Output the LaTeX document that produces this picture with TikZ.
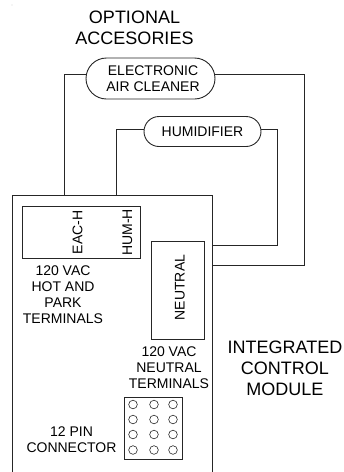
\documentclass[tikz,border=0pt]{standalone}
\usepackage{fontspec}
\setmainfont{Liberation Sans}
\usetikzlibrary{shapes.misc}
\tikzset{
  wire/.style={draw=black!85,line width=0.9pt},
  pill/.style={rounded rectangle,draw=black!85,line width=0.9pt,inner sep=0pt,align=center,font=\fontsize{14}{16}\selectfont},
  boxed/.style={rectangle,draw=black!85,line width=0.9pt,inner sep=0pt},
  big/.style={align=center,inner sep=0pt,font=\fontsize{18}{21}\selectfont},
  small/.style={align=center,inner sep=0pt,font=\fontsize{14}{16}\selectfont},
  vert/.style={rotate=90,inner sep=0pt,font=\fontsize{14}{16}\selectfont},
  pin/.style={circle,draw=black!85,line width=0.6pt,minimum size=8.6pt,inner sep=0pt}
}
\begin{document}
\begin{tikzpicture}[x=1pt,y=-1pt]
\useasboundingbox (0,0) rectangle (344,472);
\fill[black!50] (12,5) circle (0.4pt);
% module (open at the bottom)
\coordinate (mtl) at (12.5,195.5);
\coordinate (mtr) at (212,195.5);
\coordinate (mbl) at (12.5,472);
\coordinate (mbr) at (212,472);
\draw[wire] (mbl) -- (mtl) -- (mtr) -- (mbr);
% accessories
\node[big] (title) at (134.5,28) {OPTIONAL\\ACCESORIES};
\node[pill,minimum width=129pt,minimum height=41pt] (eac) at (150.5,78.5) {\hspace*{5pt}ELECTRONIC\\\hspace*{5pt}AIR CLEANER};
\node[pill,minimum width=117pt,minimum height=30pt] (hum) at (202.5,131.5) {HUMIDIFIER};
% terminals
\node[boxed,minimum width=118pt,minimum height=52pt] (hot) at (81,232) {};
\node[vert] (each) at (77.5,232.5) {EAC-H};
\node[vert] (humh) at (127.5,232.5) {HUM-H};
\node[boxed,minimum width=52.5pt,minimum height=98pt] (neutral) at (178,290) {};
\node[vert] (neutxt) at (180,287.5) {NEUTRAL};
\node[small] (hotlab) at (63,295) {120 VAC\\HOT AND\\PARK\\TERMINALS};
\node[small] (neulab) at (169,368) {120 VAC\\NEUTRAL\\TERMINALS};
\node[big] (icm) at (285,368) {INTEGRATED\\CONTROL\\MODULE};
\node[small] (pinlab) at (71.5,439.5) {12 PIN\\CONNECTOR};
% wires
\coordinate (eacl) at (64,195.5);
\coordinate (huml) at (116.5,195.5);
\coordinate (eacr) at (212,265);
\coordinate (humr) at (212,245.5);
\draw[wire] (eac.west |- 0,74) -| (eacl);
\draw[wire] (hum.west |- 0,129.5) -| (huml);
\draw[wire] (eac.east |- 0,74) -- (304.5,74) |- (eacr);
\draw[wire] (hum.east |- 0,129.5) -- (277,129.5) |- (humr);
% connector
\node[boxed,minimum width=57.5pt,minimum height=62pt] (conn) at (153.5,428) {};
\foreach \c [count=\i] in {133,154,173}
  \foreach \r [count=\j] in {404.5,419.5,434.5,450}
    \node[pin] (p\i\j) at (\c,\r) {};
\end{tikzpicture}
\end{document}
